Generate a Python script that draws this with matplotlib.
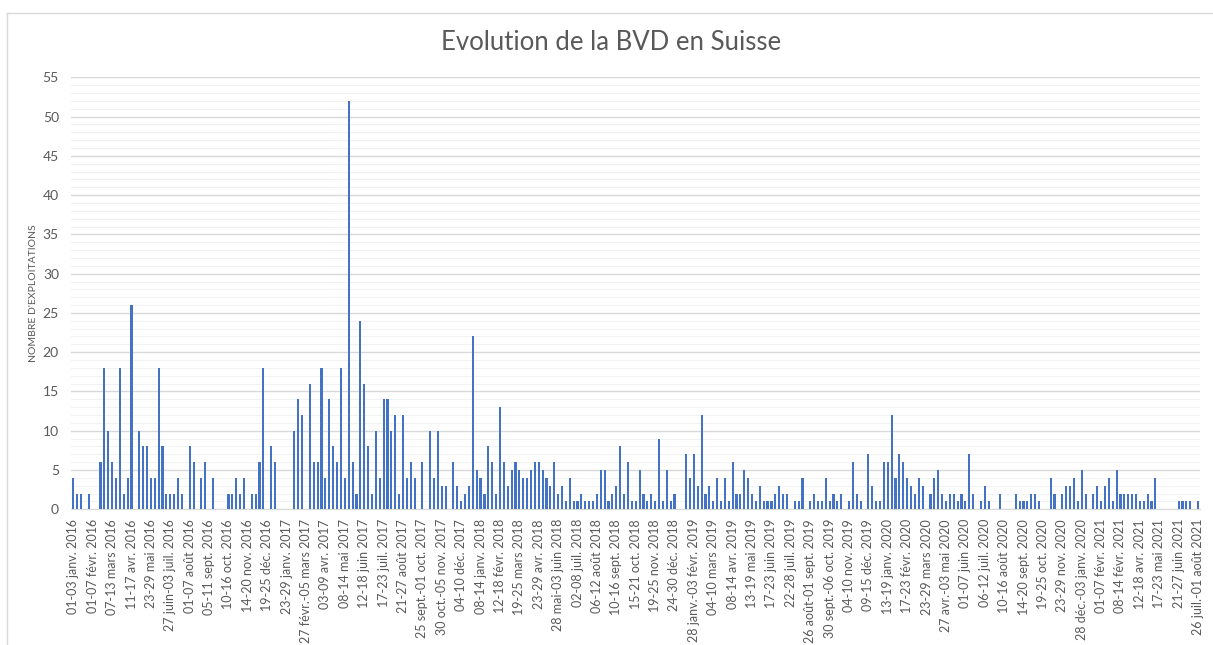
import matplotlib
matplotlib.use("Agg")
import matplotlib.pyplot as plt
from matplotlib.lines import Line2D
from matplotlib.ticker import MultipleLocator

TITLE = "Evolution de la BVD en Suisse"
Y_LABEL = "NOMBRE D'EXPLOITATIONS"

# Nombre d'exploitations touchees par semaine (01-03 janv. 2016 -> 26 juil.-01 aout 2021)
cases = [
    4, 2, 2, 0, 2, 0, 0, 6, 18, 10,
    6, 4, 18, 2, 4, 26, 0, 10, 8, 8,
    4, 4, 18, 8, 2, 2, 2, 4, 2, 0,
    8, 6, 0, 4, 6, 0, 4, 0, 0, 0,
    2, 2, 4, 2, 4, 0, 2, 2, 6, 18,
    0, 8, 6, 0, 0, 0, 0, 10, 14, 12,
    0, 16, 6, 6, 18, 4, 14, 8, 6, 18,
    4, 52, 6, 2, 24, 16, 8, 2, 10, 4,
    14, 14, 10, 12, 2, 12, 4, 6, 4, 0,
    6, 0, 10, 4, 10, 3, 3, 0, 6, 3,
    1, 2, 3, 22, 5, 4, 2, 8, 6, 2,
    13, 6, 3, 5, 6, 5, 4, 4, 5, 6,
    6, 5, 4, 3, 6, 2, 3, 1, 4, 1,
    1, 2, 1, 1, 1, 2, 5, 5, 1, 2,
    3, 8, 2, 6, 1, 1, 5, 2, 1, 2,
    1, 9, 1, 5, 1, 2, 0, 0, 7, 4,
    7, 3, 12, 2, 3, 1, 4, 1, 4, 1,
    6, 2, 2, 5, 4, 2, 1, 3, 1, 1,
    1, 2, 3, 2, 2, 0, 1, 1, 4, 0,
    1, 2, 1, 1, 4, 1, 2, 1, 2, 0,
    1, 6, 2, 1, 0, 7, 3, 1, 1, 6,
    6, 12, 4, 7, 6, 4, 3, 2, 4, 3,
    0, 2, 4, 5, 2, 1, 2, 2, 1, 2,
    1, 7, 2, 0, 1, 3, 1, 0, 0, 2,
    0, 0, 0, 2, 1, 1, 1, 2, 2, 1,
    0, 0, 4, 2, 0, 2, 3, 3, 4, 1,
    5, 2, 0, 2, 3, 1, 3, 4, 1, 5,
    2, 2, 2, 2, 2, 1, 1, 2, 1, 4,
    0, 0, 0, 0, 0, 1, 1, 1, 1, 0, 1,
]

# Excel only shows one label every 5 weeks
LABEL_STEP = 5
week_labels = [
    "01-03 janv. 2016", "01-07 févr. 2016", "07-13 mars 2016", "11-17 avr. 2016",
    "23-29 mai 2016", "27 juin-03 juil. 2016", "01-07 août 2016", "05-11 sept. 2016",
    "10-16 oct. 2016", "14-20 nov. 2016", "19-25 déc. 2016",
    "23-29 janv. 2017", "27 févr.-05 mars 2017", "03-09 avr. 2017", "08-14 mai 2017",
    "12-18 juin 2017", "17-23 juil. 2017", "21-27 août 2017", "25 sept.-01 oct. 2017",
    "30 oct.-05 nov. 2017", "04-10 déc. 2017",
    "08-14 janv. 2018", "12-18 févr. 2018", "19-25 mars 2018", "23-29 avr. 2018",
    "28 mai-03 juin 2018", "02-08 juil. 2018", "06-12 août 2018", "10-16 sept. 2018",
    "15-21 oct. 2018", "19-25 nov. 2018", "24-30 déc. 2018",
    "28 janv.-03 févr. 2019", "04-10 mars 2019", "08-14 avr. 2019", "13-19 mai 2019",
    "17-23 juin 2019", "22-28 juil. 2019", "26 août-01 sept. 2019", "30 sept.-06 oct. 2019",
    "04-10 nov. 2019", "09-15 déc. 2019",
    "13-19 janv. 2020", "17-23 févr. 2020", "23-29 mars 2020", "27 avr.-03 mai 2020",
    "01-07 juin 2020", "06-12 juil. 2020", "10-16 août 2020", "14-20 sept. 2020",
    "19-25 oct. 2020", "23-29 nov. 2020", "28 déc.-03 janv. 2020",
    "01-07 févr. 2021", "08-14 févr. 2021", "12-18 avr. 2021", "17-23 mai 2021",
    "21-27 juin 2021", "26 juil.-01 août 2021",
]

BAR_COLOR = "#4472C4"
TEXT_COLOR = "#595959"
GRID_COLOR = "#D9D9D9"

plt.rcParams["font.family"] = ["Lato", "DejaVu Sans"]

fig = plt.figure(figsize=(12.13, 6.45), dpi=100)
ax = fig.add_axes([71.4 / 1213, 1 - 509.3 / 645, (1200 - 71.4) / 1213, (509.3 - 77.3) / 645])

x = list(range(len(cases)))
ax.bar(x, cases, width=0.55, color=BAR_COLOR, zorder=3)

ax.set_xlim(-0.5, len(cases) - 0.5)
ax.set_ylim(0, 55)
ax.set_xticks(x[::LABEL_STEP])
ax.set_xticklabels(week_labels, rotation=90, fontsize=9, color=TEXT_COLOR)

ax.yaxis.set_major_locator(MultipleLocator(5))
ax.yaxis.set_minor_locator(MultipleLocator(1))
ax.grid(which="major", axis="y", color=GRID_COLOR, linewidth=1.0, zorder=0)
ax.grid(which="minor", axis="y", color="#F2F2F2", linewidth=0.8, zorder=0)
ax.set_axisbelow(True)

for side in ["top", "right", "left"]:
    ax.spines[side].set_visible(False)
ax.spines["bottom"].set_color(GRID_COLOR)

ax.tick_params(axis="x", length=0, pad=7)
ax.tick_params(axis="y", which="both", length=0, pad=9, labelsize=10, labelcolor=TEXT_COLOR)

ax.set_ylabel(Y_LABEL, fontsize=7.5, color=TEXT_COLOR, labelpad=3)
fig.text(611 / 1213, 1 - 43 / 645, TITLE, ha="center", va="center",
         fontsize=18.5, color=TEXT_COLOR)

# chart area border (left and top edges visible in the screenshot)
fig.add_artist(Line2D([7 / 1213, 7 / 1213], [0, 1 - 12.7 / 645],
                      transform=fig.transFigure, color=GRID_COLOR, lw=1))
fig.add_artist(Line2D([7 / 1213, 1], [1 - 12.7 / 645, 1 - 12.7 / 645],
                      transform=fig.transFigure, color=GRID_COLOR, lw=1))

fig.savefig("out.png", dpi=100)
